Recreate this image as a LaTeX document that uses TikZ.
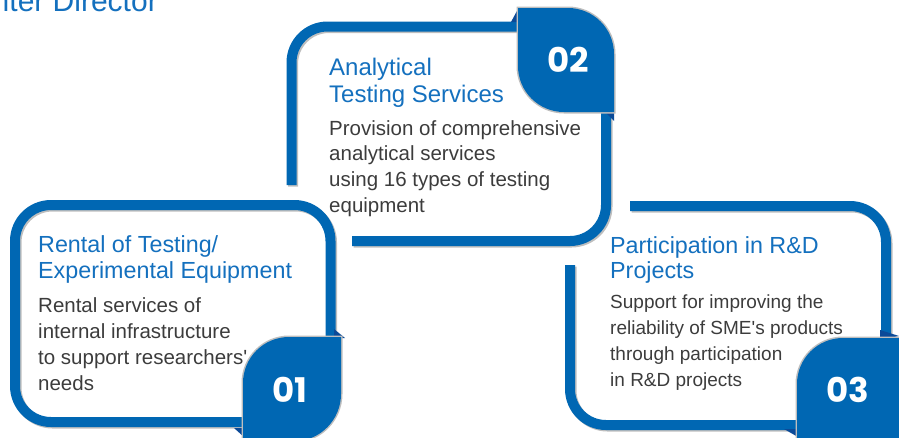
\documentclass[tikz,border=0pt]{standalone}
\usepackage{fontspec}
\setmainfont{Liberation Sans}
\newfontfamily\numfont{Poppins}
\definecolor{mainblue}{HTML}{0067B3}
\definecolor{titleblue}{HTML}{1470BE}
\definecolor{bodygray}{HTML}{3C3C3C}
\definecolor{foldblue}{HTML}{0B4A98}
\definecolor{shadowgray}{HTML}{BEBEBE}
\newcommand{\txtblock}[2]{\vtop{\baselineskip=#1\relax\lineskiplimit=-100pt\halign{##\hfil\cr#2\crcr}}}
\begin{document}
\begin{tikzpicture}[x=1pt,y=-1pt,
  band/.style={draw=mainblue, line width=10pt, rounded corners=36pt, line cap=butt},
  bandshadow/.style={draw=shadowgray, line width=10pt, rounded corners=36pt, line cap=butt, xshift=1.5pt, yshift=-1.5pt},
  badge/.style={fill=mainblue, preaction={draw=shadowgray, line width=3pt}},
  fold/.style={fill=foldblue},
  titletext/.style={anchor=base west, inner sep=0pt, text=titleblue},
  bodytext/.style={anchor=base west, inner sep=0pt, text=bodygray},
  numtext/.style={anchor=base, inner sep=0pt, text=white, font=\numfont\bfseries\fontsize{34}{34}\selectfont}]
\useasboundingbox (0,0) rectangle (899,437);

% header (cut off at the top-left, as in the reference)
\node[anchor=base east, inner sep=0pt, text=titleblue, font=\fontsize{30}{30}\selectfont] (header) at (158,11) {Center Director};

% ---- box 02 frame ----
\draw[bandshadow] (291.5,185) -- (291.5,26.5) -- (522,26.5);
\draw[bandshadow] (606,108) -- (606,241) -- (352,241);
\draw[band] (291.5,185) -- (291.5,26.5) -- (522,26.5);
\draw[band] (606,108) -- (606,241) -- (352,241);

% ---- box 01 frame ----
\draw[bandshadow] (245,422) -- (15,422) -- (15,205) -- (330.5,205) -- (330.5,340);
\draw[band] (245,422) -- (15,422) -- (15,205) -- (330.5,205) -- (330.5,340);

% ---- box 03 frame ----
\draw[bandshadow] (570,265) -- (570,425) -- (800,425);
\draw[bandshadow] (630,206) -- (886,206) -- (886,341);
\draw[band] (570,265) -- (570,425) -- (800,425);
\draw[band] (630,206) -- (886,206) -- (886,341);

% ---- folds ----
\fill[fold] (511,22) -- (518,9) -- (520,22) -- cycle;
\fill[fold] (604,111) -- (614,111) -- (614,121) -- cycle;
\fill[fold] (334,329) -- (345,338) -- (334,338) -- cycle;
\fill[fold] (234,428) -- (244,428) -- (244,437) -- cycle;
\fill[fold] (880,330) -- (899,336) -- (880,340) -- cycle;
\fill[fold] (784,429) -- (798,429) -- (798,437) -- cycle;

% ---- badges ----
\path[badge] (518,8) -- (568,8) .. controls (593.4,8) and (614,28.6) .. (614,54) -- (614,112) -- (564,112) .. controls (538.6,112) and (518,91.4) .. (518,66) -- cycle;
\path[badge] (243,441) -- (243,383) .. controls (243,357.6) and (263.6,337) .. (289,337) -- (341,337) -- (341,394) .. controls (341,419.4) and (320.4,441) .. (295,441) -- cycle;
\path[badge] (797,442) -- (797,384) .. controls (797,358.6) and (817.6,338) .. (843,338) -- (905,338) -- (905,442) -- cycle;

\node[numtext] (n02) at (568,72) {02};
\node[numtext] (n01) at (290,402) {01};
\node[numtext] (n03) at (848,402) {03};

% ---- texts ----
\node[titletext, font=\fontsize{24}{27}\selectfont] (t02) at (329,75)
  {\txtblock{27pt}{Analytical\cr Testing Services}};
\node[bodytext, font=\fontsize{20.5}{26}\selectfont] (b02) at (329,135)
  {\txtblock{25.7pt}{Provision of comprehensive\cr analytical services\cr using 16 types of testing\cr equipment}};

\node[titletext, font=\fontsize{23.3}{26}\selectfont] (t01) at (38,252)
  {\txtblock{26pt}{Rental of Testing/\cr Experimental Equipment}};
\node[bodytext, font=\fontsize{20.5}{26}\selectfont] (b01) at (38,312)
  {\txtblock{26pt}{Rental services of\cr internal infrastructure\cr to support researchers\textquotesingle\cr needs}};

\node[titletext, font=\fontsize{23.3}{26}\selectfont] (t03) at (610,253)
  {\txtblock{25pt}{Participation in R\&D\cr Projects}};
\node[bodytext, font=\fontsize{19}{26}\selectfont] (b03) at (610,308)
  {\txtblock{26.3pt}{Support for improving the\cr reliability of SME\textquotesingle s products\cr through participation\cr in R\&D projects}};
\end{tikzpicture}
\end{document}
